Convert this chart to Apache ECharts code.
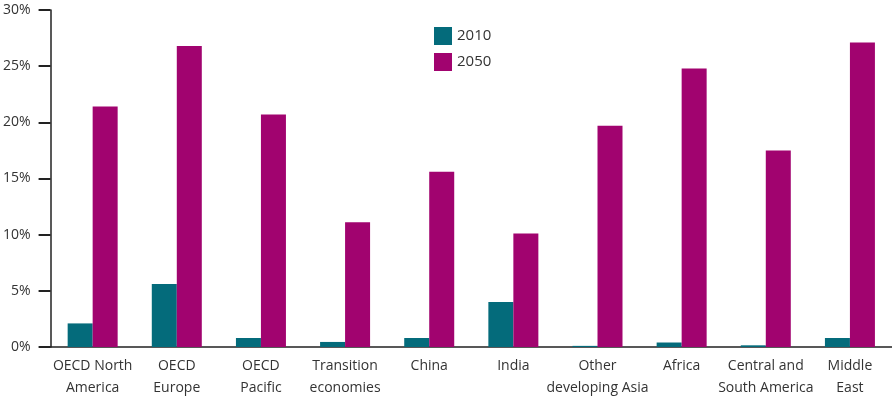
<!DOCTYPE html>
<html>
<head>
<meta charset="utf-8">
<script src="https://cdn.jsdelivr.net/npm/echarts@6/dist/echarts.min.js"></script>
<style>
  html, body { margin: 0; padding: 0; background: #fff; }
  #myChart { width: 892px; height: 400px; }
</style>
</head>
<body>
<div id="myChart"></div>
<script>
var categories = ['OECD North\nAmerica', 'OECD\nEurope', 'OECD\nPacific', 'Transition\neconomies', 'China',
  'India', 'Other\ndeveloping Asia', 'Africa', 'Central and\nSouth America', 'Middle\nEast'];
var values2010 = [2.1, 5.6, 0.8, 0.45, 0.8, 4.0, 0.1, 0.4, 0.15, 0.8];
var values2050 = [21.4, 26.8, 20.7, 11.1, 15.6, 10.1, 19.7, 24.8, 17.5, 27.1];
var yTicks = [0, 5, 10, 15, 20, 25, 30];

var font = '"Open Sans", "Noto Sans", sans-serif';
var myChart = echarts.init(document.getElementById('myChart'));
myChart.setOption({
  animation: false,
  textStyle: { fontFamily: font },
  grid: { left: 49, right: 0, top: 10, bottom: 53 },
  legend: {
    orient: 'vertical',
    left: 429,
    top: 22,
    itemWidth: 18,
    itemHeight: 18,
    itemGap: 8,
    icon: 'rect',
    textStyle: { fontFamily: font, fontSize: 15, color: '#333' },
    data: ['2010', '2050']
  },
  xAxis: {
    type: 'category',
    data: categories,
    axisLine: { lineStyle: { color: '#222', width: 1.5 } },
    axisTick: { show: false },
    axisLabel: {
      interval: 0,
      color: '#333',
      fontSize: 14,
      lineHeight: 22,
      margin: 8,
      fontFamily: font
    }
  },
  yAxis: {
    type: 'value',
    min: yTicks[0],
    max: yTicks[yTicks.length - 1],
    interval: 5,
    splitLine: { show: false },
    axisLine: { show: true, lineStyle: { color: '#222', width: 1.5 } },
    axisTick: { show: true, length: 12, lineStyle: { color: '#222', width: 2 } },
    axisLabel: {
      color: '#333',
      fontSize: 14,
      margin: 20,
      fontFamily: font,
      formatter: function (v) { return v + '%'; }
    }
  },
  series: [
    {
      name: '2010',
      type: 'bar',
      data: values2010,
      barWidth: 25,
      barGap: '0%',
      itemStyle: { color: '#046b7b' }
    },
    {
      name: '2050',
      type: 'bar',
      data: values2050,
      barWidth: 25,
      itemStyle: { color: '#a1036f' }
    }
  ]
});
</script>
</body>
</html>
